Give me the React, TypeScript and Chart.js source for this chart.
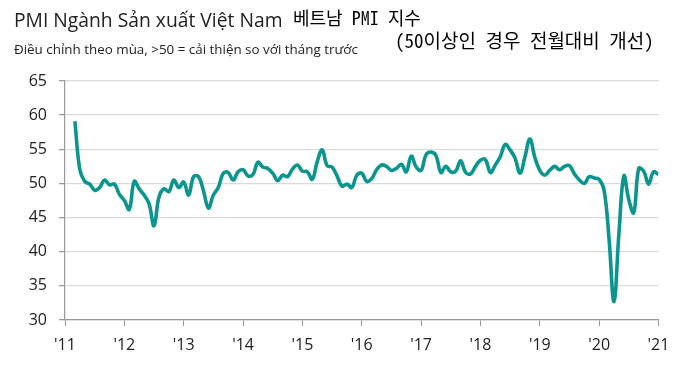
import React, { useEffect, useRef } from "react";
import { Chart, registerables } from "chart.js";

Chart.register(...registerables);

// Month index 0 = Jan 2011; series begins Mar 2011 (index 2)
const START_MONTH = 2;

const pmi2011 = [59.1, 52.0, 50.3, 49.9, 49.0, 49.4, 50.5, 49.8, 49.9, 48.4];
const pmi2012 = [47.5, 46.2, 50.3, 49.2, 48.3, 47.0, 43.8, 48.0, 49.2, 48.8, 50.5, 49.4];
const pmi2013 = [50.2, 48.3, 51.0, 51.0, 48.9, 46.4, 48.3, 49.4, 51.5, 51.6, 50.5, 51.7];
const pmi2014 = [52.0, 51.1, 51.3, 53.1, 52.4, 52.2, 51.5, 50.4, 51.2, 51.0, 52.1, 52.7];
const pmi2015 = [51.8, 51.7, 50.6, 53.2, 54.9, 52.6, 52.4, 51.1, 49.6, 49.9, 49.4, 51.2];
const pmi2016 = [51.5, 50.3, 50.7, 52.0, 52.7, 52.5, 51.9, 52.2, 52.8, 51.7, 54.0, 52.4];
const pmi2017 = [51.9, 54.2, 54.6, 54.1, 51.6, 52.5, 51.7, 51.8, 53.3, 51.6, 51.4, 52.5];
const pmi2018 = [53.4, 53.5, 51.6, 52.7, 53.9, 55.7, 54.9, 53.7, 51.5, 53.9, 56.5, 53.8];
const pmi2019 = [51.9, 51.2, 51.9, 52.5, 52.0, 52.5, 52.6, 51.4, 50.5, 50.0, 51.0, 50.8];
const pmi2020 = [50.6, 49.0, 41.9, 32.7, 42.7, 51.1, 47.6, 45.7, 52.2, 51.8, 49.9, 51.7];
const pmi2021 = [51.3];

const xTickLabels = ["'11", "'12", "'13", "'14", "'15", "'16", "'17", "'18", "'19", "'20", "'21"];
const yMin = 30;
const yMax = 65;
const yStep = 5;

const titleText = "PMI Ngành Sản xuất Việt Nam";
const subtitleText = "Điều chỉnh theo mùa, >50 = cải thiện so với tháng trước";
const koreanLine1 = "베트남 PMI 지수";
const koreanLine2 = "(50이상인 경우 전월대비 개선)";

export default function App() {
  const canvasRef = useRef<HTMLCanvasElement | null>(null);

  useEffect(() => {
    const values = [
      ...pmi2011, ...pmi2012, ...pmi2013, ...pmi2014, ...pmi2015,
      ...pmi2016, ...pmi2017, ...pmi2018, ...pmi2019, ...pmi2020, ...pmi2021,
    ];
    const points = values.map((v, i) => ({ x: START_MONTH + i, y: v }));
    const tickFont = { family: "'Open Sans', sans-serif", size: 16 };
    const chart = new Chart(canvasRef.current as HTMLCanvasElement, {
      type: "line",
      data: {
        datasets: [
          {
            data: points,
            borderColor: "#0a968f",
            borderWidth: 3.6,
            pointRadius: 0,
            tension: 0.4,
            fill: false,
          },
        ],
      },
      options: {
        animation: false,
        responsive: false,
        maintainAspectRatio: false,
        layout: { padding: { top: 81, right: 21.5, left: 0, bottom: 0 } },
        plugins: {
          legend: { display: false },
          tooltip: { enabled: false },
        },
        scales: {
          x: {
            type: "linear",
            min: 0,
            max: (xTickLabels.length - 1) * 12,
            ticks: {
              stepSize: 12,
              autoSkip: false,
              maxRotation: 0,
              padding: 10,
              color: "#222",
              font: tickFont,
              callback: (v: any) => xTickLabels[Math.round(Number(v) / 12)] ?? "",
            },
            grid: {
              drawOnChartArea: false,
              drawTicks: true,
              tickLength: 6,
              tickColor: "#9a9a9a",
            },
            border: { color: "#9a9a9a", width: 1.2 },
            afterFit: (s: any) => {
              s.height = 45;
            },
          },
          y: {
            min: yMin,
            max: yMax,
            ticks: {
              stepSize: yStep,
              padding: 12,
              color: "#222",
              font: tickFont,
            },
            grid: {
              color: "#dadada",
              lineWidth: 1.3,
              tickColor: "#9a9a9a",
              tickLength: 6,
            },
            border: { color: "#9a9a9a", width: 1.2 },
            afterFit: (s: any) => {
              s.width = 65;
            },
          },
        },
      },
    });
    return () => chart.destroy();
  }, []);

  return (
    <div style={{ position: "fixed", left: 0, top: 0, width: 680, height: 365, background: "#fff" }}>
      <canvas ref={canvasRef} width={680} height={365} style={{ position: "absolute", left: 0, top: 0 }} />
      <div
        style={{
          position: "absolute", left: 14, top: 7, fontFamily: "'Open Sans', sans-serif",
          fontSize: 19.3, color: "#222", whiteSpace: "nowrap", lineHeight: "26px",
        }}
      >
        {titleText}
      </div>
      <div
        style={{
          position: "absolute", left: 14, top: 40, fontFamily: "'Open Sans', sans-serif",
          fontSize: 13.4, color: "#222", whiteSpace: "nowrap", lineHeight: "18px",
        }}
      >
        {subtitleText}
      </div>
      <div
        style={{
          position: "absolute", left: 293, top: 5, fontFamily: "'Noto Sans Mono CJK KR', 'Noto Sans CJK KR', monospace",
          fontSize: 18, color: "#000", whiteSpace: "pre", lineHeight: "24px",
        }}
      >
        {koreanLine1}
      </div>
      <div
        style={{
          position: "absolute", left: 395, top: 27, fontFamily: "'Noto Sans Mono CJK KR', 'Noto Sans CJK KR', monospace",
          fontSize: 19, color: "#000", whiteSpace: "pre", lineHeight: "26px",
        }}
      >
        {koreanLine2}
      </div>
    </div>
  );
}
